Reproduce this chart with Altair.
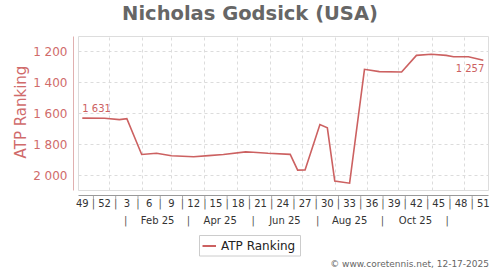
import altair as alt
import pandas as pd
from datetime import date

# ---------------- data ----------------
dates = ["2024-12-02", "2024-12-23", "2025-01-06", "2025-01-13", "2025-01-27",
         "2025-02-10", "2025-02-24", "2025-03-17", "2025-03-31", "2025-04-14",
         "2025-05-05", "2025-05-12", "2025-05-26", "2025-06-16", "2025-06-23",
         "2025-06-30", "2025-07-14", "2025-07-21", "2025-07-28", "2025-08-11",
         "2025-08-25", "2025-09-08", "2025-09-29", "2025-10-13", "2025-10-27",
         "2025-11-10", "2025-11-17", "2025-12-01", "2025-12-15"]
ranks = [1631, 1632, 1641, 1635, 1866,
         1858, 1874, 1880, 1873, 1866,
         1849, 1851, 1858, 1865, 1967,
         1966, 1673, 1694, 2037, 2051,
         1316, 1331, 1333, 1226, 1219,
         1226, 1235, 1235, 1257]

week_labels = ["49", "52", "3", "6", "9", "12", "15", "18", "21", "24",
               "27", "30", "33", "36", "39", "42", "45", "48", "51"]
week_years = [2024, 2024] + [2025] * 17

grid_dates = ["2024-12-27", "2025-01-27", "2025-02-24", "2025-03-27",
              "2025-04-27", "2025-05-28", "2025-06-27", "2025-07-28",
              "2025-08-27", "2025-09-26", "2025-10-28", "2025-11-27"]

month_labels = ["Feb 25", "Apr 25", "Jun 25", "Aug 25", "Oct 25"]
month_label_dates = ["2025-02-11", "2025-04-11", "2025-06-11", "2025-08-11", "2025-10-12"]
month_sep_dates = ["2025-01-12", "2025-03-12", "2025-05-12", "2025-07-12",
                   "2025-09-11", "2025-11-11"]

y_ticks = [1200, 1400, 1600, 1800, 2000]

title_text = "Nicholas Godsick (USA)"
series_name = "ATP Ranking"
credit_text = "© www.coretennis.net, 12-17-2025"

# ---------------- helpers ----------------
START = date(2024, 12, 2)


def day(s):
    return (date.fromisoformat(s) - START).days


def fmt(v):
    return f"{v:,}".replace(",", " ")


df = pd.DataFrame({"day": [day(s) for s in dates], "rank": ranks})
df["label"] = ""
df.loc[0, "label"] = fmt(ranks[0])
df_first = df.iloc[[0]]
df_last = df.iloc[[-1]].copy()
df_last["label"] = fmt(ranks[-1])

wk_days = [(date.fromisocalendar(y, int(w), 1) - START).days
           for y, w in zip(week_years, week_labels)]
wk = pd.DataFrame({"day": wk_days, "label": week_labels})
wk_sep = pd.DataFrame({"day": [(a + b) / 2 for a, b in zip(wk_days[:-1], wk_days[1:])],
                       "label": ["|"] * (len(wk_days) - 1)})
mo = pd.DataFrame({"day": [day(s) for s in month_label_dates], "label": month_labels})
mo_sep = pd.DataFrame({"day": [day(s) for s in month_sep_dates],
                       "label": ["|"] * len(month_sep_dates)})

# ---------------- layout ----------------
OX, OY = 78, 36
W, H = 410, 154
RED = "#cc6161"
RED_L = "#d06b6b"
FONT = "DejaVu Sans"

xs = alt.Scale(domain=[-4.05, 382.45], nice=False, zero=False)
ys = alt.Scale(domain=[1101, 2095], reverse=True, nice=False, zero=False)

x_axis = alt.Axis(values=[day(s) for s in grid_dates], grid=True, gridDash=[3, 3],
                  gridColor="#dcdcdc", ticks=False, labels=False, domain=True,
                  domainColor="#999999", offset=5, title=None)
y_axis = alt.Axis(values=y_ticks, grid=True, gridDash=[3, 3], gridColor="#dcdcdc",
                  ticks=False, labelColor=RED_L, labelFontSize=12, labelFont=FONT,
                  labelExpr="replace(format(datum.value, ',d'), ',', ' ')",
                  domainColor="#e0b0b0", offset=5, labelPadding=6, title=None)

X = alt.X("day:Q", scale=xs, axis=x_axis)
Y = alt.Y("rank:Q", scale=ys, axis=y_axis)

one = alt.Data(values=[{"a": 1}])

line = alt.Chart(df).mark_line(color=RED, strokeWidth=1.6).encode(x=X, y=Y)

first_lab = alt.Chart(df_first).mark_text(
    align="left", baseline="middle", dy=-9, fontSize=10, color=RED, font=FONT
).encode(x=X, y=Y, text="label:N")
last_lab = alt.Chart(df_last).mark_text(
    align="right", baseline="middle", dx=1, dy=9, fontSize=10, color=RED, font=FONT
).encode(x=X, y=Y, text="label:N")

ticks = alt.Chart(wk_sep).mark_rule(color="#aaaaaa").encode(
    x=X, y=alt.value(196 - OY), y2=alt.value(199 - OY))

wk_text = alt.Chart(wk).mark_text(fontSize=10, color="#333333", baseline="middle", font=FONT).encode(
    x=X, y=alt.value(204 - OY), text="label:N")
wk_sep_text = alt.Chart(wk_sep).mark_text(fontSize=10, color="#555555", baseline="middle", font=FONT).encode(
    x=X, y=alt.value(204 - OY), text="label:N")
mo_text = alt.Chart(mo).mark_text(fontSize=10, color="#333333", baseline="middle", font=FONT).encode(
    x=X, y=alt.value(221 - OY), text="label:N")
mo_sep_text = alt.Chart(mo_sep).mark_text(fontSize=10, color="#555555", baseline="middle", font=FONT).encode(
    x=X, y=alt.value(221 - OY), text="label:N")

title = alt.Chart(one).mark_text(
    fontSize=19.5, fontWeight="bold", color="#666666", font=FONT, baseline="middle", align="center"
).encode(x=alt.value(250 - OX), y=alt.value(13.5 - OY), text=alt.value(title_text))

y_title = alt.Chart(one).mark_text(
    fontSize=15, color=RED_L, font=FONT, angle=270, baseline="middle", align="center"
).encode(x=alt.value(20.7 - OX), y=alt.value(112 - OY), text=alt.value(series_name))

leg_box = alt.Chart(one).mark_rect(fill="white", stroke="#cccccc", strokeWidth=1).encode(
    x=alt.value(199.5 - OX), x2=alt.value(300.5 - OX),
    y=alt.value(235.5 - OY), y2=alt.value(256 - OY))
leg_line = alt.Chart(one).mark_rule(color=RED, strokeWidth=2).encode(
    x=alt.value(202.5 - OX), x2=alt.value(216 - OX), y=alt.value(246 - OY))
leg_text = alt.Chart(one).mark_text(
    fontSize=12, color="#222222", font=FONT, align="left", baseline="middle"
).encode(x=alt.value(221 - OX), y=alt.value(246 - OY), text=alt.value(series_name))

credit = alt.Chart(one).mark_text(
    fontSize=9, color="#666666", font=FONT, align="right", baseline="middle"
).encode(x=alt.value(489 - OX), y=alt.value(264 - OY), text=alt.value(credit_text))

chart = alt.layer(
    line, first_lab, last_lab, ticks, wk_text, wk_sep_text, mo_text, mo_sep_text,
    title, y_title, leg_box, leg_line, leg_text, credit
).properties(
    width=W, height=H,
    autosize=alt.AutoSizeParams(type="none"),
    padding={"left": OX, "top": OY, "right": 500 - OX - W, "bottom": 270 - OY - H},
).configure_view(
    fill="#fafafa", stroke="#888888", strokeWidth=1
).configure(font=FONT, background="white")

chart.save("out.html", embed_options={"renderer": "svg", "actions": False})
